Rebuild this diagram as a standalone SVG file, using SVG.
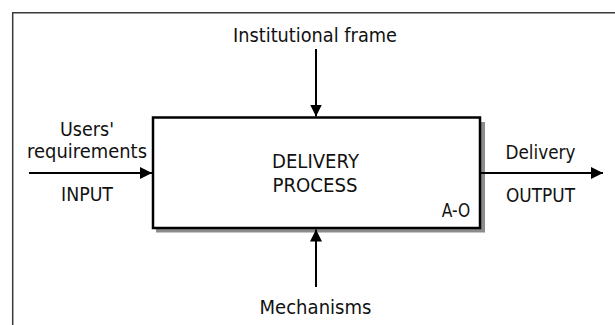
<svg xmlns="http://www.w3.org/2000/svg" width="615" height="325" viewBox="0 0 615 325">
<defs>
<style>
text{font-family:"DejaVu Sans",Verdana,sans-serif;font-size:19px;fill:#111;text-anchor:middle}
.line{stroke:#000;stroke-width:2;fill:none}
</style>
<marker id="ah" viewBox="0 0 12 12" refX="12" refY="6" markerWidth="12" markerHeight="12" markerUnits="userSpaceOnUse" orient="auto">
<path d="M0,0 L12,6 L0,12 Z" fill="#000"/>
</marker>
</defs>
<rect width="615" height="325" fill="#fff"/>
<path d="M12.7,325 V12.7 H615" fill="none" stroke="#3a3a3a" stroke-width="1.5"/>
<g id="process">
<rect x="156" y="122" width="329" height="110.5" fill="#8c8c8c"/>
<rect x="153" y="117.5" width="327" height="110.5" fill="#fff" stroke="#000" stroke-width="2.5"/>
<text x="315.5" y="168" textLength="87" lengthAdjust="spacingAndGlyphs">DELIVERY</text>
<text x="315" y="191.5" textLength="85" lengthAdjust="spacingAndGlyphs">PROCESS</text>
<text x="456" y="217" font-size="17" textLength="28.5" lengthAdjust="spacingAndGlyphs">A-O</text>
</g>
<g id="control">
<text x="315" y="42" textLength="164" lengthAdjust="spacingAndGlyphs">Institutional frame</text>
</g>
<g id="input">
<text x="87" y="136" textLength="54" lengthAdjust="spacingAndGlyphs">Users'</text>
<text x="87" y="158" textLength="120" lengthAdjust="spacingAndGlyphs">requirements</text>
<text x="87" y="201" textLength="52" lengthAdjust="spacingAndGlyphs">INPUT</text>
</g>
<g id="output">
<text x="540.5" y="159" textLength="70" lengthAdjust="spacingAndGlyphs">Delivery</text>
<text x="540.5" y="202" textLength="69" lengthAdjust="spacingAndGlyphs">OUTPUT</text>
</g>
<g id="mechanism">
<text x="315.5" y="314" textLength="112" lengthAdjust="spacingAndGlyphs">Mechanisms</text>
</g>
<g id="connectors">
<line class="line" x1="316" y1="49" x2="316" y2="116.5" marker-end="url(#ah)"/>
<line class="line" x1="316" y1="287" x2="316" y2="229.5" marker-end="url(#ah)"/>
<line class="line" x1="29" y1="173" x2="152" y2="173" marker-end="url(#ah)"/>
<line class="line" x1="481" y1="173" x2="603" y2="173" marker-end="url(#ah)"/>
</g>
</svg>
